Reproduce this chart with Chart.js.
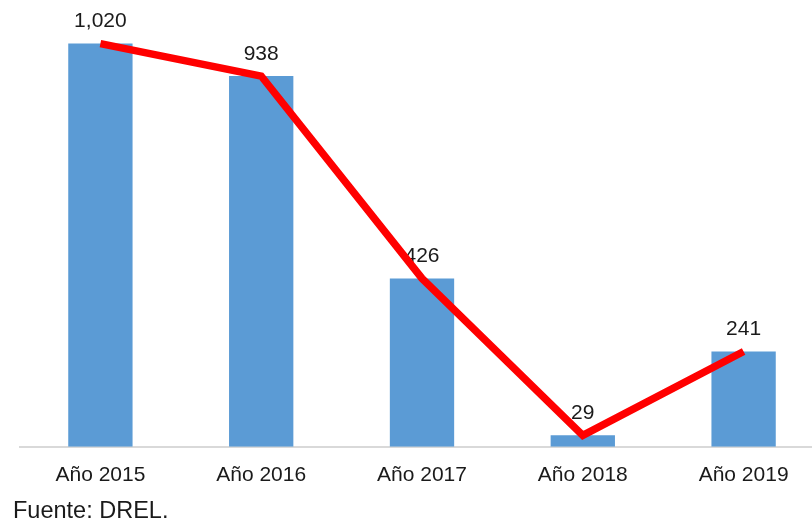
<!DOCTYPE html>
<html>
<head>
<meta charset="utf-8">
<script src="https://cdn.jsdelivr.net/npm/chart.js@4/dist/chart.umd.min.js"></script>
<style>
  html, body { margin: 0; padding: 0; background: #fff; overflow: hidden; }
  #wrap { position: relative; width: 812px; height: 527px; overflow: hidden; }
  #wrap canvas { position: absolute; left: 0; top: 0; }
  #fuente {
    position: absolute; left: 13px; top: 498px;
    font-family: "Liberation Sans", Arial, sans-serif;
    font-size: 23.5px; line-height: 24px; color: #1a1a1a;
  }
</style>
</head>
<body>
<div id="wrap">
  <canvas id="grafico" width="830" height="527"></canvas>
  <div id="fuente">Fuente: DREL.</div>
</div>
<script>
// datos
const anios = ["Año 2015", "Año 2016", "Año 2017", "Año 2018", "Año 2019"];
const valores = [1020, 938, 426, 29, 241];
const tendencia = [1020, 938, 426, 29, 241];

const fuente = "'Liberation Sans', Arial, sans-serif";

// etiquetas encima de las barras (debajo de la línea roja)
const etiquetas = {
  id: "etiquetas",
  afterDatasetDraw(chart, args) {
    if (args.index !== 0) return;
    const ctx = chart.ctx;
    ctx.save();
    ctx.font = "21px " + fuente;
    ctx.fillStyle = "#1a1a1a";
    ctx.textAlign = "center";
    ctx.textBaseline = "middle";
    args.meta.data.forEach((bar, i) => {
      ctx.fillText(valores[i].toLocaleString("en-US"), bar.x, bar.y - 22);
    });
    ctx.restore();
  }
};

const ctx = document.getElementById("grafico").getContext("2d");

new Chart(ctx, {
  data: {
    labels: anios,
    datasets: [
      {
        type: "bar",
        data: valores,
        backgroundColor: "#5b9bd5",
        barPercentage: 0.4,
        categoryPercentage: 1,
        order: 2
      },
      {
        type: "line",
        data: tendencia,
        borderColor: "#ff0000",
        borderWidth: 7.5,
        pointRadius: 0,
        tension: 0,
        order: 1
      }
    ]
  },
  options: {
    responsive: false,
    animation: false,
    layout: { padding: { left: 20, right: 6, top: 12, bottom: 23 } },
    plugins: {
      legend: { display: false },
      tooltip: { enabled: false }
    },
    scales: {
      x: {
        grid: { display: false, drawTicks: false },
        border: { display: true, color: "#d9d9d9", width: 2 },
        ticks: {
          padding: 16,
          color: "#1a1a1a",
          font: { family: fuente, size: 21 }
        }
      },
      y: {
        display: false,
        min: 0,
        max: 1100
      }
    }
  },
  plugins: [etiquetas]
});
</script>
</body>
</html>
